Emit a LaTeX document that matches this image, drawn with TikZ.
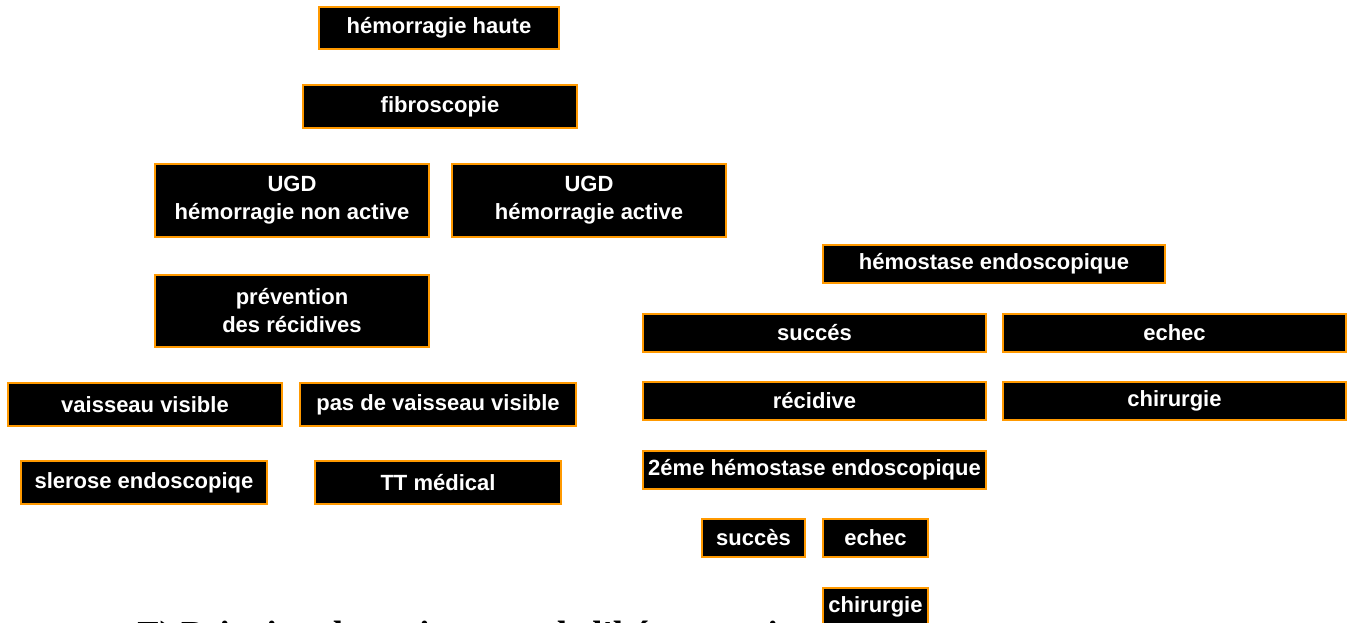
\documentclass[tikz,border=0pt]{standalone}
\usepackage{fontspec}
\setmainfont{Liberation Sans}
\newfontfamily\headfont{Liberation Serif}
\definecolor{boxorange}{RGB}{255,153,0}

\begin{document}
\begin{tikzpicture}[x=0.75pt, y=-0.75pt,
    box/.style 2 args={shape=rectangle, fill=black, draw=boxorange, line width=1.6pt,
        text=white, font=\fontsize{16.5}{21}\selectfont\bfseries, align=center, inner sep=0pt,
        minimum width=#1*0.75pt-1.6pt, minimum height=#2*0.75pt-1.6pt}]
    \useasboundingbox (0,0) rectangle (1353,622);
    \fill[white] (0,0) rectangle (1353,622);
    % titre sous le schema
    \node[anchor=base west, inner sep=0pt, font=\headfont\fontsize{27.5}{30}\selectfont\bfseries] (T1) at (137,646) {F) Principe du traitement de l'hémorragie};
    % colonne de gauche
    \node[box={242}{44}] (H1) at (439,28) {hémorragie haute};
    \node[box={276}{45}] (F1) at (440,106.5) {fibroscopie};
    \node[box={276}{75}] (U1) at (292,200.5) {UGD\\hémorragie non active};
    \node[box={276}{75}] (U2) at (589,200.5) {UGD\\hémorragie active};
    \node[box={276}{74}] (P1) at (292,311) {prévention\\des récidives};
    \node[box={276}{45}] (V1) at (145,404.5) {vaisseau visible};
    \node[box={278}{45}] (V2) at (438,404.5) {pas de vaisseau visible};
    \node[box={248}{45}] (S1) at (144,482.5) {slerose endoscopiqe};
    \node[box={248}{45}] (M1) at (438,482.5) {TT médical};
    % colonne de droite
    \node[box={344}{40}] (E1) at (994,264) {hémostase endoscopique};
    \node[box={345}{40}] (R1) at (814.5,333) {succés};
    \node[box={345}{40}] (R2) at (1174.5,333) {echec};
    \node[box={345}{40}] (R3) at (814.5,401) {récidive};
    \node[box={345}{40}] (R4) at (1174.5,401) {chirurgie};
    \node[box={345}{40}] (E2) at (814.5,470) {2éme hémostase endoscopique};
    \node[box={105}{40}] (Q1) at (753.5,538) {succès};
    \node[box={107}{40}] (Q2) at (875.5,538) {echec};
    \node[box={107}{40}] (Q3) at (875.5,607) {chirurgie};
\end{tikzpicture}
\end{document}
